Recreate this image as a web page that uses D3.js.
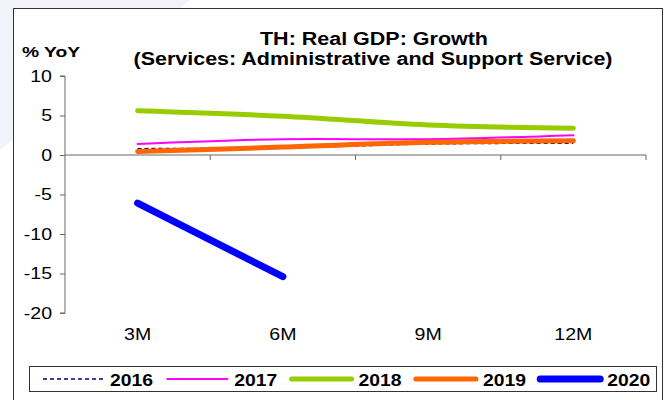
<!DOCTYPE html>
<html>
<head>
<meta charset="utf-8">
<script src="https://cdn.jsdelivr.net/npm/d3@7"></script>
<style>
body { margin: 0; background: #fff; }
svg { display: block; font-family: "Liberation Sans", Arial, sans-serif; }
</style>
</head>
<body>
<svg id="svg_chart" width="669" height="400"></svg>
<script>
// categories and series (% YoY)
var categories = ["3M", "6M", "9M", "12M"];
var y_ticks = [10, 5, 0, -5, -10, -15, -20];
var s2016 = [0.8, 0.9, 1.4, 1.5];
var s2017 = [1.4, 2.0, 2.0, 2.5];
var s2018 = [5.6, 4.9, 3.8, 3.4];
var s2019 = [0.45, 1.0, 1.6, 1.8];
var s2020 = [-6.1, -15.4];
var years = ["2016", "2017", "2018", "2019", "2020"];

var series = [
	{name: years[0], vals: s2016, color: "#000080", width: 1.6, dash: "4,3"},
	{name: years[1], vals: s2017, color: "#ff00ff", width: 2, dash: null},
	{name: years[2], vals: s2018, color: "#99cc00", width: 5, dash: null},
	{name: years[3], vals: s2019, color: "#ff6600", width: 5, dash: null},
	{name: years[4], vals: s2020, color: "#0000ff", width: 7, dash: null}
];

var svg = d3.select("svg#svg_chart");

// stretch text horizontally like the source picture
var stretch = function(sel, k) {
	sel.each(function() {
		var w = this.getComputedTextLength();
		d3.select(this).attr("textLength", w * k).attr("lengthAdjust", "spacingAndGlyphs");
	});
};

// faint backdrop shape top-left
svg.append("path")
	.attr("d", "M0,0 L190,0 L0,150 Z")
	.attr("fill", "#f1f2fa");

// outer frame
svg.append("rect")
	.attr("x", 13.5).attr("y", 8.5)
	.attr("width", 649).attr("height", 400)
	.attr("fill", "#fff")
	.attr("stroke", "#333").attr("stroke-width", 1);

var x = d3.scaleBand().domain(categories).range([65, 646]);
var y = d3.scaleLinear().domain([-20, 10]).range([313, 76]);

// title
var t1 = svg.append("text")
	.attr("x", 374).attr("y", 45)
	.attr("text-anchor", "middle")
	.attr("font-weight", "bold").attr("font-size", 17.5)
	.text("TH: Real GDP: Growth");
var t2 = svg.append("text")
	.attr("x", 373).attr("y", 65)
	.attr("text-anchor", "middle")
	.attr("font-weight", "bold").attr("font-size", 17.5)
	.text("(Services: Administrative and Support Service)");
t1.attr("textLength", 228).attr("lengthAdjust", "spacingAndGlyphs");
t2.attr("textLength", 479).attr("lengthAdjust", "spacingAndGlyphs");

var yoy = svg.append("text")
	.attr("x", 22).attr("y", 57)
	.attr("font-weight", "bold").attr("font-size", 15.5)
	.text("% YoY");
yoy.attr("textLength", 58).attr("lengthAdjust", "spacingAndGlyphs");

// y axis
var yAxis = svg.append("g")
	.attr("transform", "translate(" + x.range()[0] + ",0)")
	.call(d3.axisLeft(y).tickValues(y_ticks).tickSize(5).tickPadding(8)
		.tickFormat(function(d) { return String(d); }));
yAxis.selectAll("path, line").attr("stroke", "#666");
yAxis.selectAll("text").attr("font-size", 17).attr("fill", "#000")
	.attr("font-family", "Liberation Sans, Arial, sans-serif");
stretch(yAxis.selectAll("text"), 1.15);
yAxis.select(".domain").attr("d", "M-5," + y(10) + "H0V" + y(-20) + "H-5");

// x axis at zero with ticks between bands
var xg = svg.append("g");
xg.append("line")
	.attr("x1", x.range()[0]).attr("x2", x.range()[1])
	.attr("y1", y(0)).attr("y2", y(0))
	.attr("stroke", "#666");
var bounds = categories.map(function(c) { return x(c) + x.bandwidth(); });
xg.selectAll(".tk").data(bounds).enter().append("line")
	.attr("x1", function(d) { return d; }).attr("x2", function(d) { return d; })
	.attr("y1", y(0)).attr("y2", y(0) + 5)
	.attr("stroke", "#666");
// category labels low
var cl = xg.selectAll(".lbl").data(categories).enter().append("text")
	.attr("x", function(d) { return x(d) + x.bandwidth() / 2; })
	.attr("y", 340)
	.attr("text-anchor", "middle")
	.attr("font-size", 17)
	.text(function(d) { return d; });
stretch(cl, 1.15);

// lines
var line = d3.line()
	.curve(d3.curveCatmullRom.alpha(0.5))
	.x(function(d, i) { return x(categories[i]) + x.bandwidth() / 2; })
	.y(function(d) { return y(d); });

series.forEach(function(s) {
	svg.append("path")
		.datum(s.vals)
		.attr("fill", "none")
		.attr("stroke", s.color)
		.attr("stroke-width", s.width)
		.attr("stroke-linecap", s.dash ? "butt" : "round")
		.attr("stroke-dasharray", s.dash)
		.attr("d", line);
});

// legend
var lg = svg.append("g");
lg.append("rect")
	.attr("x", 29.5).attr("y", 366.5)
	.attr("width", 627).attr("height", 25)
	.attr("fill", "#fff").attr("stroke", "#333");
var item = lg.selectAll(".item").data(series).enter().append("g")
	.attr("transform", function(d, i) { return "translate(" + (43 + i * 124.3) + ",379)"; });
item.append("line")
	.attr("x1", 0).attr("x2", 60)
	.attr("stroke", function(d) { return d.color; })
	.attr("stroke-width", function(d) { return d.width; })
	.attr("stroke-dasharray", function(d) { return d.dash; })
	.attr("stroke-linecap", function(d) { return d.dash ? "butt" : "round"; });
var lt = item.append("text")
	.attr("x", 67).attr("y", 6.5)
	.attr("font-weight", "bold").attr("font-size", 17)
	.text(function(d) { return d.name; });
lt.attr("textLength", 43).attr("lengthAdjust", "spacingAndGlyphs");
</script>
</body>
</html>
